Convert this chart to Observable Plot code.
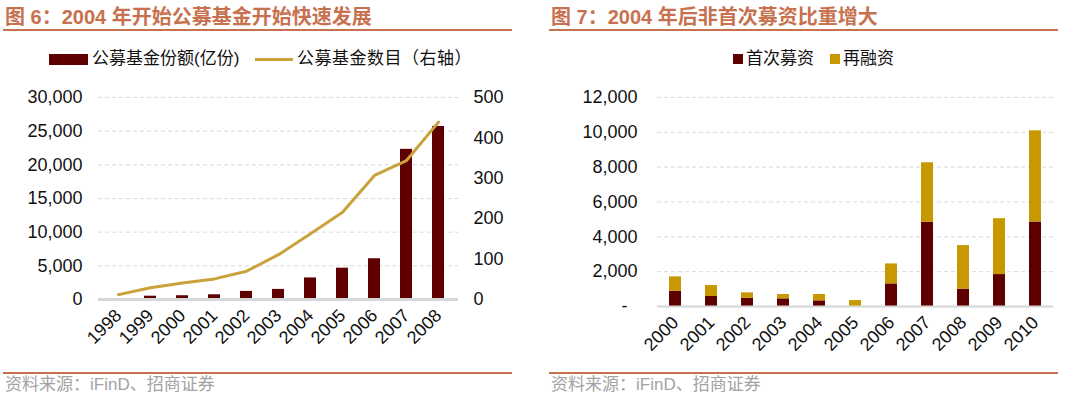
<!DOCTYPE html>
<html><head><meta charset="utf-8">
<script src="https://cdn.jsdelivr.net/npm/d3@7"></script>
<script src="https://cdn.jsdelivr.net/npm/@observablehq/plot@0.6"></script>
<style>
body{margin:0;background:#fff;width:1080px;height:398px;position:relative;overflow:hidden;font-family:"Liberation Sans","Noto Sans CJK SC",sans-serif;}
.abs{position:absolute;}
.title{font-size:20px;font-weight:bold;color:#c8714f;white-space:nowrap;line-height:24px;}
.rule{height:2px;background:#c8714f;}
.leg{font-size:17px;color:#111;white-space:nowrap;line-height:20px;}
.src{font-size:17px;color:#a3a3a3;white-space:nowrap;line-height:20px;}
</style></head><body>
<div class="abs title" style="left:5px;top:5px">图 6：2004 年开始公募基金开始快速发展</div>
<div class="abs rule" style="left:3px;top:29px;width:509px"></div>
<div class="abs title" style="left:551px;top:5px">图 7：2004 年后非首次募资比重增大</div>
<div class="abs rule" style="left:549px;top:29px;width:509px"></div>

<div class="abs" style="left:49px;top:54px;width:39px;height:11px;background:#5e0000"></div>
<div class="abs leg" style="left:92px;top:49px">公募基金份额(亿份)</div>
<div class="abs" style="left:255px;top:58px;width:38px;height:3px;background:#c9a23c"></div>
<div class="abs leg" style="left:297px;top:49px;letter-spacing:0.5px">公募基金数目（右轴）</div>

<div class="abs" style="left:733px;top:54px;width:10px;height:10px;background:#5e0000"></div>
<div class="abs leg" style="left:746px;top:49px">首次募资</div>
<div class="abs" style="left:830px;top:54px;width:10px;height:10px;background:#c89800"></div>
<div class="abs leg" style="left:843px;top:49px">再融资</div>

<div id="left" class="abs" style="left:0;top:80px"></div>
<div id="right" class="abs" style="left:540px;top:80px"></div>

<div class="abs rule" style="left:3px;top:372px;width:509px"></div>
<div class="abs rule" style="left:549px;top:372px;width:509px"></div>
<div class="abs src" style="left:5px;top:375px">资料来源：iFinD、招商证券</div>
<div class="abs src" style="left:551px;top:375px">资料来源：iFinD、招商证券</div>

<script>
// Left chart data
const fundYears = ["1998","1999","2000","2001","2002","2003","2004","2005","2006","2007","2008"];
const fundShares = [100, 490, 560, 700, 1200, 1500, 3200, 4650, 6050, 22300, 25700];
const fundCounts = [12, 29, 41, 51, 70, 111, 163, 216, 307, 344, 439];
const leftTicks = [0, 5000, 10000, 15000, 20000, 25000, 30000];
const rightTicks = [0, 100, 200, 300, 400, 500];

// Right chart data
const ipoYears = ["2000","2001","2002","2003","2004","2005","2006","2007","2008","2009","2010"];
const ipoFirst = [877, 573, 478, 439, 325, 0, 1299, 4833, 993, 1834, 4852];
const ipoRefi = [823, 630, 305, 250, 363, 340, 1146, 3419, 2503, 3209, 5234];
const ipoTicks = [0, 2000, 4000, 6000, 8000, 10000, 12000];
const seriesNames = ["首次募资", "再融资"];

const DARK = "#5e0000", GOLD = "#c89800", LINE = "#c9a23c";
const GRID = "#d9d9d9";
const fnum = d3.format(",");
const SCALE = 60; // right axis 500 -> left axis 30000

const leftData = fundYears.map((y, i) => ({year: y, shares: fundShares[i], count: fundCounts[i]}));

const left = Plot.plot({
  width: 540, height: 280,
  marginTop: 17, marginBottom: 61, marginLeft: 98, marginRight: 82,
  style: {fontFamily: '"Liberation Sans", Arial, sans-serif', fontSize: "18px", color: "#111", background: "transparent", overflow: "visible"},
  x: {type: "band", domain: fundYears, paddingInner: 0.63, paddingOuter: 0.315, label: null},
  y: {domain: [0, 30000], label: null},
  marks: [
    Plot.ruleY(leftTicks.slice(1), {stroke: GRID, strokeDasharray: "4,3"}),
    Plot.barY(leftData, {x: "year", y: "shares", fill: DARK}),
    Plot.ruleY([0], {stroke: "#d6d6d6", strokeWidth: 3}),
    Plot.lineY(leftData, {x: "year", y: d => d.count * SCALE, stroke: LINE, strokeWidth: 3}),
    Plot.axisY(leftTicks, {tickSize: 0, tickPadding: 16, tickFormat: fnum, label: null, fontSize: 18}),
    Plot.axisY(rightTicks.map(v => v * SCALE), {anchor: "right", tickSize: 0, tickPadding: 15, tickFormat: d => String(d / SCALE), label: null, fontSize: 18}),
    Plot.axisX({tickRotate: -45, tickSize: 0, tickPadding: 13, label: null, fontSize: 18})
  ]
});
document.getElementById("left").appendChild(left);

const ipoData = [];
ipoYears.forEach((y, i) => {
  ipoData.push({year: y, type: seriesNames[0], value: ipoFirst[i]});
  ipoData.push({year: y, type: seriesNames[1], value: ipoRefi[i]});
});

const right = Plot.plot({
  width: 540, height: 280,
  marginTop: 17, marginBottom: 54, marginLeft: 117, marginRight: 27,
  style: {fontFamily: '"Liberation Sans", Arial, sans-serif', fontSize: "18px", color: "#111", background: "transparent", overflow: "visible"},
  x: {type: "band", domain: ipoYears, paddingInner: 0.66, paddingOuter: 0.33, label: null},
  y: {domain: [0, 12000], label: null},
  color: {domain: seriesNames, range: [DARK, GOLD]},
  marks: [
    Plot.ruleY(ipoTicks.slice(1), {stroke: GRID, strokeDasharray: "4,3"}),
    Plot.barY(ipoData, {x: "year", y: "value", fill: "type"}),
    Plot.ruleY([0], {stroke: "#d6d6d6", strokeWidth: 2}),
    Plot.axisY(ipoTicks, {tickSize: 0, tickPadding: 20, tickFormat: d => d === 0 ? "-\u00a0\u00a0" : fnum(d), label: null, fontSize: 18}),
    Plot.axisX({tickRotate: -45, tickSize: 0, tickPadding: 13, label: null, fontSize: 18})
  ]
});
document.getElementById("right").appendChild(right);
</script>
</body></html>
